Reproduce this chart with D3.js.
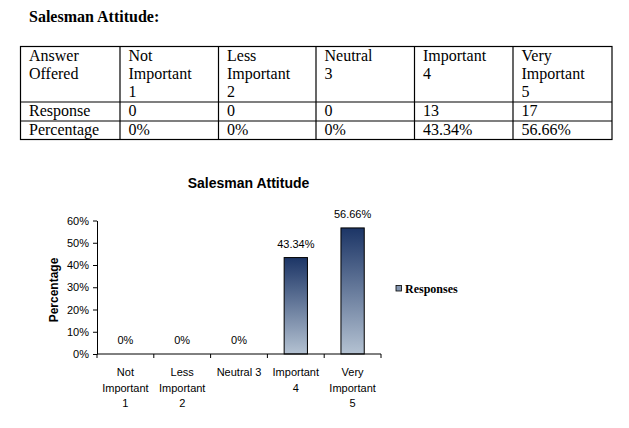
<!DOCTYPE html>
<html>
<head>
<meta charset="utf-8">
<script src="https://cdn.jsdelivr.net/npm/d3@7"></script>
<style>
  html, body { margin: 0; padding: 0; background: #fff; }
  svg { display: block; }
</style>
</head>
<body>
<svg id="page" width="629" height="428"></svg>
<script>
/* Salesman Attitude — survey table + bar chart of percentages */
(() => {
  "use strict";

  // ---- data ----
  const headerLabels = ["Answer|Offered", "Not|Important|1", "Less|Important|2", "Neutral|3", "Important|4", "Very|Important|5"];
  const responseRow = ["Response", "0", "0", "0", "13", "17"];
  const percentRow = ["Percentage", "0%", "0%", "0%", "43.34%", "56.66%"];

  const categories = ["Not|Important|1", "Less|Important|2", "Neutral 3", "Important|4", "Very|Important|5"];
  const percentages = [0, 0, 0, 43.34, 56.66];
  const yTicks = [0, 10, 20, 30, 40, 50, 60];
  const seriesName = "Responses";

  const svg = d3.select("#page");
  const SERIF = "'Liberation Serif', 'Times New Roman', serif";
  const SANS = "'Liberation Sans', Arial, sans-serif";

  /* ---------- heading + table ---------- */
  svg.append("text")
    .attr("x", 29).attr("y", 22)
    .attr("font-family", SERIF).attr("font-size", 16).attr("font-weight", "bold")
    .text("Salesman Attitude:");

  const colX = [20.5, 120, 218.5, 316, 414.5, 513, 612];
  const rowY = [46.5, 102, 121, 139.5];
  const tbl = svg.append("g").attr("font-family", SERIF).attr("font-size", 16).attr("fill", "#000");

  tbl.append("rect")
    .attr("x", colX[0]).attr("y", rowY[0])
    .attr("width", colX[6] - colX[0]).attr("height", rowY[3] - rowY[0])
    .attr("fill", "none").attr("stroke", "#000").attr("stroke-width", 1.2);
  colX.slice(1, 6).forEach((x) =>
    tbl.append("line").attr("x1", x).attr("x2", x).attr("y1", rowY[0]).attr("y2", rowY[3])
      .attr("stroke", "#000").attr("stroke-width", 1.2));
  rowY.slice(1, 3).forEach((y) =>
    tbl.append("line").attr("x1", colX[0]).attr("x2", colX[6]).attr("y1", y).attr("y2", y)
      .attr("stroke", "#000").attr("stroke-width", 1.2));

  headerLabels.forEach((lbl, i) => {
    const t = tbl.append("text").attr("x", colX[i] + 8.5).attr("y", 61);
    lbl.split("|").forEach((s, k) => t.append("tspan").attr("x", colX[i] + 8.5).attr("dy", k ? 18 : 0).text(s));
  });
  [[responseRow, 116], [percentRow, 134.5]].forEach(([row, y]) =>
    row.forEach((s, i) => tbl.append("text").attr("x", colX[i] + 8.5).attr("y", y).text(s)));

  /* ---------- chart ---------- */
  const x = d3.scaleBand().domain(categories).range([97, 381]);
  const y = d3.scaleLinear().domain([0, 60]).range([354, 220.5]);
  const barW = x.bandwidth() * 0.41;

  const defs = svg.append("defs");
  const grad = defs.append("linearGradient").attr("id", "barGrad")
    .attr("x1", 0).attr("y1", 0).attr("x2", 0).attr("y2", 1);
  grad.append("stop").attr("offset", "0%").attr("stop-color", "#1c3566");
  grad.append("stop").attr("offset", "100%").attr("stop-color", "#b4c2d2");

  svg.append("text")
    .attr("x", 248.5).attr("y", 188).attr("text-anchor", "middle")
    .attr("font-family", SANS).attr("font-size", 14).attr("font-weight", "bold")
    .text("Salesman Attitude");

  svg.append("text")
    .attr("transform", "translate(58,290) rotate(-90)").attr("text-anchor", "middle")
    .attr("font-family", SANS).attr("font-size", 12).attr("font-weight", "bold")
    .text("Percentage");

  // y axis
  const yAxis = svg.append("g").attr("transform", "translate(97,0)")
    .call(d3.axisLeft(y).tickValues(yTicks).tickFormat((d) => d + "%").tickSize(4).tickSizeOuter(0).tickPadding(4));
  yAxis.select(".domain").attr("stroke", "#000");
  yAxis.selectAll(".tick line").attr("stroke", "#000");
  yAxis.selectAll("text").attr("font-family", SANS).attr("font-size", 11).attr("fill", "#000");

  // bars
  svg.append("g").selectAll("rect")
    .data(categories.map((c, i) => ({ c, v: percentages[i] })).filter((d) => d.v > 0))
    .join("rect")
    .attr("x", (d) => x(d.c) + x.bandwidth() / 2 - barW / 2)
    .attr("y", (d) => y(d.v))
    .attr("width", barW)
    .attr("height", (d) => y(0) - y(d.v))
    .attr("fill", "url(#barGrad)")
    .attr("stroke", "#000").attr("stroke-width", 1);

  // x axis with ticks at band edges
  const xa = svg.append("g");
  xa.append("line").attr("x1", 97).attr("x2", 381).attr("y1", y(0)).attr("y2", y(0)).attr("stroke", "#000");
  categories.forEach((c) =>
    xa.append("line").attr("x1", x(c) + x.bandwidth()).attr("x2", x(c) + x.bandwidth())
      .attr("y1", y(0)).attr("y2", y(0) + 4).attr("stroke", "#000"));
  xa.append("line").attr("x1", 97).attr("x2", 97).attr("y1", y(0)).attr("y2", y(0) + 4).attr("stroke", "#000");

  categories.forEach((c) => {
    const cx = x(c) + x.bandwidth() / 2;
    const t = xa.append("text").attr("text-anchor", "middle")
      .attr("font-family", SANS).attr("font-size", 11).attr("y", 376);
    c.split("|").forEach((s, k) => t.append("tspan").attr("x", cx).attr("dy", k ? 15.5 : 0).text(s));
  });

  // value labels
  svg.append("g").selectAll("text")
    .data(categories.map((c, i) => ({ c, v: percentages[i] })))
    .join("text")
    .attr("x", (d) => x(d.c) + x.bandwidth() / 2)
    .attr("y", (d) => y(d.v) - 10)
    .attr("text-anchor", "middle")
    .attr("font-family", SANS).attr("font-size", 11)
    .text((d) => d.v + "%");

  // legend
  const lg = svg.append("g");
  lg.append("rect").attr("x", 396).attr("y", 285.5).attr("width", 5.5).attr("height", 5.5)
    .attr("fill", "#8496b0").attr("stroke", "#000").attr("stroke-width", 0.8);
  lg.append("text").attr("x", 405).attr("y", 293)
    .attr("font-family", SERIF).attr("font-size", 12).attr("font-weight", "bold")
    .text(seriesName);
})();
</script>
</body>
</html>
